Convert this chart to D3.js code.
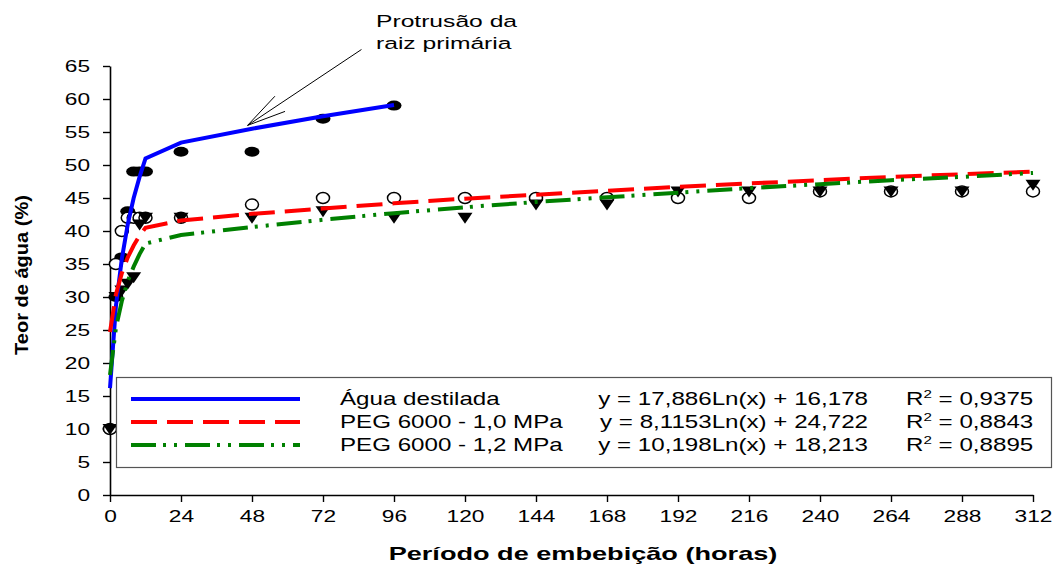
<!DOCTYPE html>
<html>
<head>
<meta charset="utf-8">
<script src="https://cdn.jsdelivr.net/npm/d3@7"></script>
<style>
  body { margin: 0; background: #fff; }
  svg { display: block; font-family: Arial, "Liberation Sans", sans-serif; }
</style>
</head>
<body>
<svg id="svg" width="1061" height="566"></svg>
<script>
// sampling times (hours)
var horas = [0, 2, 4, 6, 8, 10, 12, 24, 48, 72, 96, 120, 144, 168, 192, 216, 240, 264, 288, 312];

// observed points
var aguaObs   = [10, 30, 36, 43, 49, 49, 49, 52, 52, 57, 59];
var peg10Obs  = [10, 35, 40, 42, 42, 42, 42, 42, 44, 45, 45, 45, 45, 45, 45, 45, 46, 46, 46, 46];
var peg12Obs  = [10, 30, 31, 32, 33, 41, 42, 42, 42, 43, 42, 42, 44, 44, 46, 46, 46, 46, 46, 47];

// fitted lines as drawn
var aguaFit  = [16.2, 28.6, 35.8, 41.0, 45.0, 48.2, 51.0, 53.4, 55.5, 57.4, 59.1];
var peg10Fit = [24.7, 30.4, 33.6, 36.0, 37.8, 39.3, 40.5, 41.6, 42.6, 43.4, 44.2, 44.9, 45.5, 46.1, 46.7, 47.2, 47.7, 48.2, 48.6, 49.0];
var peg12Fit = [18.2, 25.3, 29.4, 32.4, 34.6, 36.5, 38.1, 39.4, 40.6, 41.7, 42.7, 43.6, 44.4, 45.1, 45.8, 46.5, 47.1, 47.7, 48.2, 48.8];

var xTicks = [0, 24, 48, 72, 96, 120, 144, 168, 192, 216, 240, 264, 288, 312];
var yTicks = [0, 5, 10, 15, 20, 25, 30, 35, 40, 45, 50, 55, 60, 65];

var legendNames = ["Água destilada", "PEG 6000 - 1,0 MPa", "PEG 6000 - 1,2 MPa"];
var legendEq = ["y = 17,886Ln(x) + 16,178", "y = 8,1153Ln(x) + 24,722", "y = 10,198Ln(x) + 18,213"];
var legendR2 = ["0,9375", "0,8843", "0,8895"];

var svg = d3.select("#svg");

var x = d3.scaleLinear().domain([0, 312]).range([110, 1033]);
var y = d3.scaleLinear().domain([0, 65]).range([495, 66]);

// axes
var gx = svg.append("g")
    .attr("transform", "translate(0,495)")
    .call(d3.axisBottom(x).tickValues(xTicks).tickSize(7).tickSizeOuter(0));
var gy = svg.append("g")
    .attr("transform", "translate(110,0)")
    .call(d3.axisLeft(y).tickValues(yTicks).tickSize(7).tickSizeOuter(0));

[gx, gy].forEach(function (g) {
    g.select(".domain").attr("stroke", "#000").attr("stroke-width", 1.6);
    g.selectAll(".tick line").attr("stroke", "#000").attr("stroke-width", 1.4);
    g.selectAll(".tick text").attr("fill", "#000").style("font-size", "16px");
});
gx.selectAll(".tick text").attr("y", 16).attr("transform", "scale(1.42,1)");
gy.selectAll(".tick text").attr("x", -14).attr("transform", "scale(1.42,1)");

// markers
var cx = function (d, i) { return x(horas[i]); };

svg.append("g").selectAll("ellipse")
    .data(aguaObs).enter().append("ellipse")
    .attr("cx", cx).attr("cy", function (d) { return y(d); })
    .attr("rx", 7.5).attr("ry", 5)
    .attr("fill", "#000");

svg.append("g").selectAll("ellipse")
    .data(peg10Obs).enter().append("ellipse")
    .attr("cx", cx).attr("cy", function (d) { return y(d); })
    .attr("rx", 6.5).attr("ry", 5.5)
    .attr("fill", "#fff").attr("stroke", "#000").attr("stroke-width", 1.5);

svg.append("g").selectAll("path")
    .data(peg12Obs).enter().append("path")
    .attr("d", function (d, i) {
        var px = x(horas[i]), py = y(d);
        return "M" + (px - 7.5) + "," + (py - 5) + "L" + (px + 7.5) + "," + (py - 5) + "L" + px + "," + (py + 6) + "Z";
    })
    .attr("fill", "#000");

// fitted lines
var line = d3.line()
    .x(function (d, i) { return x(horas[i]); })
    .y(function (d) { return y(d); });

var series = [
    { data: aguaFit,  color: "#0000ff", dash: null },
    { data: peg10Fit, color: "#ff0000", dash: "26,10" },
    { data: peg12Fit, color: "#008000", dash: "25,7,3,8,3,8" }
];

series.forEach(function (s) {
    svg.append("path")
        .datum(s.data)
        .attr("d", line)
        .attr("fill", "none")
        .attr("stroke", s.color)
        .attr("stroke-width", 4)
        .attr("stroke-dasharray", s.dash);
});

// legend
svg.append("rect")
    .attr("x", 116.5).attr("y", 377.5)
    .attr("width", 935).attr("height", 90)
    .attr("fill", "#fff").attr("stroke", "#555").attr("stroke-width", 1.2);

var rowY = [399, 422, 445];

function stretchText(g, px, py, str, sx, anchor) {
    return g.append("text")
        .attr("transform", "translate(" + px + "," + py + ") scale(" + sx + ",1)")
        .attr("text-anchor", anchor || "start")
        .text(str);
}

var leg = svg.append("g").style("font-size", "17.5px").attr("fill", "#000");
series.forEach(function (s, i) {
    leg.append("line")
        .attr("x1", 131).attr("x2", 300)
        .attr("y1", rowY[i]).attr("y2", rowY[i])
        .attr("stroke", s.color).attr("stroke-width", 4)
        .attr("stroke-dasharray", s.dash);
    stretchText(leg, 340, rowY[i] + 6, legendNames[i], 1.38);
    stretchText(leg, 868, rowY[i] + 6, legendEq[i], 1.38, "end");
    var r = stretchText(leg, 906, rowY[i] + 6, "", 1.38);
    r.append("tspan").text("R");
    r.append("tspan").attr("dy", -7).style("font-size", "11px").text("2");
    r.append("tspan").attr("dy", 7).text(" = " + legendR2[i]);
});

// axis titles
stretchText(svg, 583, 560, "Período de embebição (horas)", 1.55, "middle")
    .style("font-size", "17.5px").style("font-weight", "bold");

svg.append("text")
    .attr("transform", "translate(28,275) rotate(-90)")
    .attr("text-anchor", "middle")
    .style("font-size", "18px").style("font-weight", "bold")
    .attr("textLength", 160).attr("lengthAdjust", "spacingAndGlyphs")
    .text("Teor de água (%)");

// annotation
var ann = svg.append("g").style("font-size", "17px");
stretchText(ann, 376, 27, "Protrusão da", 1.45);
stretchText(ann, 376, 49, "raiz primária", 1.45);

var tip = [x(46.5), y(56)], tail = [x(85), y(67.5)];
var ang = Math.atan2(tail[1] - tip[1], tail[0] - tip[0]);
svg.append("line")
    .attr("x1", tail[0]).attr("y1", tail[1]).attr("x2", tip[0]).attr("y2", tip[1])
    .attr("stroke", "#000").attr("stroke-width", 1);
[-0.23, 0.23].forEach(function (da) {
    svg.append("line")
        .attr("x1", tip[0]).attr("y1", tip[1])
        .attr("x2", tip[0] + 40 * Math.cos(ang + da))
        .attr("y2", tip[1] + 40 * Math.sin(ang + da))
        .attr("stroke", "#000").attr("stroke-width", 1);
});
</script>
</body>
</html>
